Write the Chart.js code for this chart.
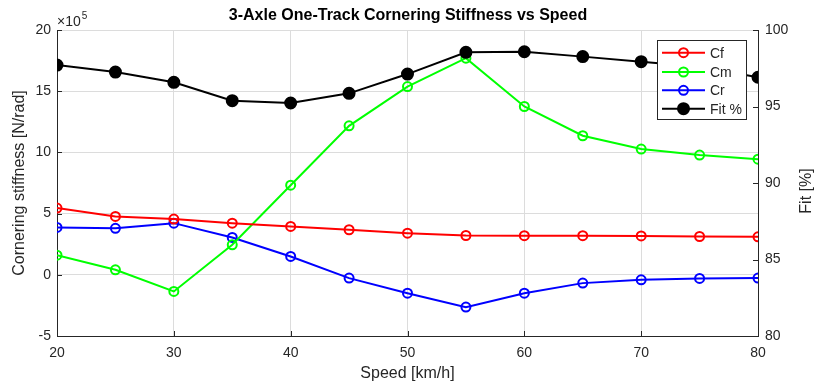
<!DOCTYPE html>
<html><head><meta charset="utf-8">
<script src="https://cdn.jsdelivr.net/npm/chart.js@4/dist/chart.umd.min.js"></script>
<style>html,body{margin:0;padding:0;background:#fff}#wrap{width:816px;height:385px}</style>
</head><body><div id="wrap"><canvas id="c" width="816" height="385"></canvas></div>
<script>
const speeds = [20,25,30,35,40,45,50,55,60,65,70,75,80];
// stiffness values in units of 1e5 N/rad
const cf = [5.45,4.77,4.55,4.22,3.95,3.68,3.40,3.21,3.20,3.20,3.18,3.13,3.10];
const cm = [1.60,0.41,-1.36,2.45,7.32,12.17,15.38,17.70,13.75,11.36,10.27,9.78,9.45];
const cr = [3.87,3.80,4.22,3.05,1.50,-0.27,-1.50,-2.64,-1.50,-0.68,-0.41,-0.30,-0.27];
const fit = [97.71,97.25,96.58,95.38,95.23,95.86,97.12,98.54,98.58,98.26,97.93,97.60,96.91];
const xTicks = [20,30,40,50,60,70,80];
const leftTicks = [-5,0,5,10,15,20];
const rightTicks = [80,85,90,95,100];
const seriesNames = ['Cf','Cm','Cr','Fit %'];
const seriesColors = ['#ff0000','#00ff00','#0000ff','#000000'];

const FONT = "'Liberation Sans', Arial, Helvetica, sans-serif";
const AX = '#262626';

function pts(arr){ return speeds.map((s,i)=>({x:s,y:arr[i]})); }
function ds(label, arr, color, axis, filled, order){
  return {label, data: pts(arr), yAxisID: axis, borderColor: color, backgroundColor: filled ? color : 'rgba(0,0,0,0)',
    borderWidth: 2, pointRadius: filled ? 5.5 : 4.5, pointBorderWidth: 2, pointBorderColor: color,
    pointBackgroundColor: filled ? color : 'rgba(0,0,0,0)', tension: 0, order};
}

const deco = {
  id: 'deco',
  afterDraw(chart){
    const ctx = chart.ctx, ca = chart.chartArea;
    const sx = chart.scales.x, sy = chart.scales.y, sy1 = chart.scales.y1;
    ctx.save();
    // inward tick marks
    ctx.strokeStyle = AX; ctx.lineWidth = 1;
    ctx.beginPath();
    xTicks.forEach(v=>{ const p = Math.round(sx.getPixelForValue(v))+0.5; ctx.moveTo(p, ca.bottom); ctx.lineTo(p, ca.bottom-5); });
    leftTicks.forEach(v=>{ const p = Math.round(sy.getPixelForValue(v))+0.5; ctx.moveTo(ca.left, p); ctx.lineTo(ca.left+5, p); });
    rightTicks.forEach(v=>{ const p = Math.round(sy1.getPixelForValue(v))+0.5; ctx.moveTo(ca.right, p); ctx.lineTo(ca.right-5, p); });
    ctx.stroke();
    // exponent label
    ctx.fillStyle = AX;
    ctx.textBaseline = 'alphabetic'; ctx.textAlign = 'left';
    ctx.font = '14px ' + FONT;
    ctx.fillText('\u00d710', ca.left, 26);
    const w = ctx.measureText('\u00d710').width;
    ctx.font = '10px ' + FONT;
    ctx.fillText('5', ca.left + w + 1, 19);
    // right axis title (reads bottom to top)
    ctx.save();
    ctx.translate(806.5, 191);
    ctx.rotate(-Math.PI/2);
    ctx.textAlign = 'center'; ctx.textBaseline = 'middle';
    ctx.font = '16px ' + FONT;
    ctx.fillStyle = AX;
    ctx.fillText('Fit [%]', 0, 0);
    ctx.restore();
    // legend
    const lx = 657, ly = 40, lw = 89, lh = 79;
    ctx.fillStyle = '#ffffff';
    ctx.fillRect(lx, ly, lw, lh);
    ctx.strokeStyle = AX; ctx.lineWidth = 1;
    ctx.strokeRect(lx+0.5, ly+0.5, lw, lh);
    const rows = [52.7, 72, 90.3, 108.7];
    ctx.font = '14px ' + FONT;
    ctx.textAlign = 'left'; ctx.textBaseline = 'middle';
    seriesNames.forEach((name,i)=>{
      const y = rows[i], c = seriesColors[i];
      ctx.strokeStyle = c; ctx.lineWidth = 2;
      ctx.beginPath(); ctx.moveTo(662, y); ctx.lineTo(705, y); ctx.stroke();
      ctx.beginPath(); ctx.arc(683.5, y, i===3 ? 5.5 : 4.5, 0, Math.PI*2);
      if (i===3) { ctx.fillStyle = c; ctx.fill(); }
      ctx.stroke();
      ctx.fillStyle = AX;
      ctx.fillText(name, 710, y+1);
    });
    ctx.restore();
  }
};

new Chart(document.getElementById('c'), {
  type: 'line',
  data: { datasets: [
    ds(seriesNames[0], cf, seriesColors[0], 'y', false, 1),
    ds(seriesNames[1], cm, seriesColors[1], 'y', false, 2),
    ds(seriesNames[2], cr, seriesColors[2], 'y', false, 3),
    ds(seriesNames[3], fit, seriesColors[3], 'y1', true, 0)
  ]},
  options: {
    responsive: false, animation: false, devicePixelRatio: 1,
    layout: { padding: 0 },
    plugins: {
      legend: { display: false },
      tooltip: { enabled: false },
      title: { display: true, text: '3-Axle One-Track Cornering Stiffness vs Speed',
        font: { family: FONT, size: 16, weight: 'bold' }, color: '#000', padding: { top: 5.5, bottom: 5.3 } }
    },
    scales: {
      x: { type: 'linear', min: 20, max: 80,
        afterBuildTicks: s => { s.ticks = xTicks.map(v=>({value:v})); },
        afterFit: s => { s.height = 49; },
        grid: { color: '#dcdcdc', drawTicks: false },
        border: { color: AX, width: 1 },
        ticks: { color: AX, font: { family: FONT, size: 14 }, padding: 9, maxRotation: 0 },
        title: { display: true, text: 'Speed [km/h]', color: AX, font: { family: FONT, size: 16 }, padding: { top: 0, bottom: 2.1 } }
      },
      y: { position: 'left', min: -5, max: 20,
        afterBuildTicks: s => { s.ticks = leftTicks.map(v=>({value:v})); },
        afterFit: s => { s.width = 57; },
        grid: { color: '#dcdcdc', drawTicks: false },
        border: { color: AX, width: 1 },
        ticks: { color: AX, font: { family: FONT, size: 14 }, padding: 6 },
        title: { display: true, text: 'Cornering stiffness [N/rad]', color: AX, font: { family: FONT, size: 16 }, padding: { top: 10.4, bottom: 0 } }
      },
      y1: { position: 'right', min: 80, max: 100,
        afterBuildTicks: s => { s.ticks = rightTicks.map(v=>({value:v})); },
        afterFit: s => { s.width = 58; },
        grid: { display: true, drawOnChartArea: false, drawTicks: false },
        border: { color: AX, width: 1 },
        ticks: { color: AX, font: { family: FONT, size: 14 }, padding: 7 },
        title: { display: false }
      }
    }
  },
  plugins: [deco]
});
</script>
</body></html>
